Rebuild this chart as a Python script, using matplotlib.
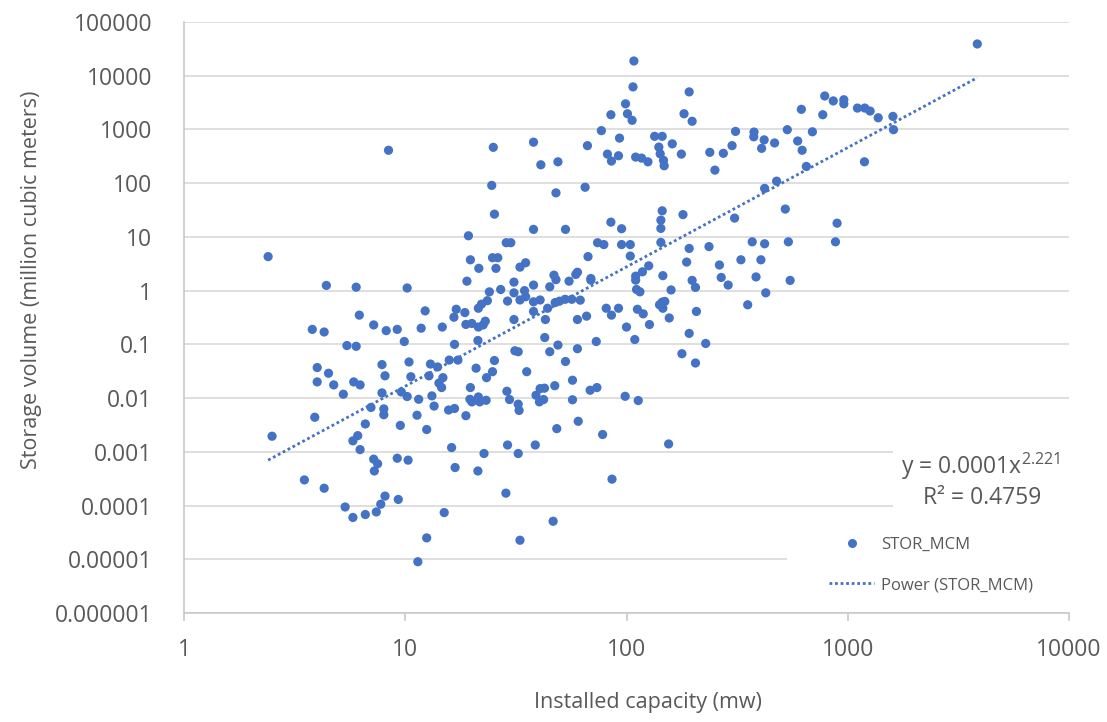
import matplotlib
matplotlib.use("Agg")
import matplotlib.pyplot as plt
from matplotlib.lines import Line2D
from matplotlib.patches import Rectangle

plt.rcParams["font.family"] = ["Open Sans", "DejaVu Sans"]

# installed capacity (MW) and storage volume (million m3)
cap_small = [2.4, 4.4, 6.0, 10.2, 19.3, 19.7, 21.5, 19.0, 22.1, 21.4, 12.3, 17.0, 18.6, 16.6,
             18.8, 20.0, 21.4, 3.8, 4.3, 7.2, 8.2, 9.2, 6.2, 11.8, 14.7, 9.9, 16.7, 21.3,
             5.45, 6.0, 4.0, 4.5, 4.0, 4.75, 5.85, 6.25, 5.25, 7.85, 8.1, 7.85, 10.4, 10.6,
             9.6, 10.2, 11.5, 13.0, 14.0, 12.8, 14.8, 14.2, 14.6, 13.2, 15.8, 17.3, 20.9,
             19.7, 19.6, 21.4, 20.0, 21.7, 18.8, 16.7, 15.7, 13.5, 11.3, 8.0, 8.0, 7.0, 3.9,
             2.5, 6.6, 6.1, 5.8, 6.25, 7.2, 7.5, 7.25, 9.5, 12.5, 9.2, 10.3, 16.2, 16.8,
             21.3, 3.5, 4.3, 5.35, 5.8, 6.6, 7.4, 7.75, 8.1, 9.3, 15.0, 12.5, 11.4, 8.4]
vol_small = [4.3, 1.25, 1.16, 1.12, 10.5, 3.75, 2.6, 1.5, 0.56, 0.47, 0.42, 0.45, 0.39, 0.32,
             0.235, 0.245, 0.21, 0.19, 0.17, 0.23, 0.18, 0.19, 0.35, 0.2, 0.21, 0.113, 0.10,
             0.118, 0.095, 0.092, 0.037, 0.029, 0.02, 0.0176, 0.02, 0.0176, 0.0118, 0.042,
             0.026, 0.0125, 0.047, 0.025, 0.013, 0.0107, 0.0095, 0.043, 0.038, 0.026, 0.024,
             0.019, 0.0157, 0.011, 0.051, 0.051, 0.036, 0.0157, 0.0095, 0.0105, 0.0085,
             0.0085, 0.0047, 0.0064, 0.006, 0.0071, 0.0048, 0.0063, 0.0049, 0.0067, 0.0044,
             0.00195, 0.0033, 0.002, 0.0016, 0.0011, 0.00073, 0.0006, 0.00044, 0.0031,
             0.0026, 0.00076, 0.0007, 0.0012, 0.00051, 0.00044, 0.0003, 0.00021, 0.000094,
             0.00006, 0.000068, 0.000076, 0.000106, 0.00015, 0.00013, 0.000074, 0.000025,
             0.000009, 410]

cap_mid = [25.3, 38, 53, 85, 95, 23.5, 22.5, 23, 31, 31, 29, 27, 24, 25.7, 24.8, 26.2, 28.6,
           30, 33, 34.6, 35, 38, 40.7, 38, 44, 43, 47.6, 49.8, 52.8, 56.6, 61.8, 60, 66, 81,
           85.5, 92, 73, 60, 49, 45, 53, 42.7, 31, 31.3, 32.4, 35.4, 42.6, 40.7, 47.4, 39,
           40.4, 42.2, 57, 57, 68.5, 73.5, 98.6, 32.4, 32.7, 28.8, 29.6, 24.8, 25.3, 23.3,
           23.2, 35, 33, 38, 47, 48, 45, 55, 59, 60, 69, 69, 67, 74, 79, 95, 22.7, 29, 32.4,
           38.7, 48.4, 60.5, 78, 86, 28.5, 46.6, 33, 38, 41, 49, 48, 25, 24.6, 66.6, 65,
           77, 93, 85, 82, 85.5, 92]
vol_mid = [26.5, 13.8, 13.8, 18.8, 14.2, 0.65, 0.23, 0.27, 1.44, 0.91, 0.64, 1.05, 0.95, 2.6,
           4.1, 4.1, 7.8, 7.8, 0.67, 1.0, 0.77, 0.62, 0.67, 0.41, 0.47, 0.29, 0.60, 0.637,
           0.69, 0.69, 0.665, 0.29, 0.335, 0.47, 0.35, 0.47, 0.113, 0.083, 0.097, 0.073,
           0.048, 0.134, 0.29, 0.076, 0.073, 0.031, 0.0153, 0.015, 0.017, 0.0113, 0.0085,
           0.0094, 0.0215, 0.0093, 0.014, 0.0157, 0.0108, 0.0077, 0.0059, 0.0134, 0.0094,
           0.031, 0.05, 0.024, 0.0091, 3.3, 2.74, 1.27, 1.94, 1.6, 1.18, 1.5, 2.0, 2.2,
           1.68, 1.57, 4.3, 7.8, 7.2, 7.2, 0.00093, 0.00134, 0.00093, 0.00134, 0.0027,
           0.0037, 0.0021, 0.00031, 0.00017, 0.000051, 0.0000226, 580, 220, 250, 66, 465,
           91, 500, 84, 950, 690, 1880, 348, 258, 324]

cap_large = [108, 107, 99, 101, 106, 192, 182, 198, 134, 145, 140, 142, 147, 148, 161, 177,
             110, 117, 125, 238, 251, 274, 300, 311, 377, 376, 419, 408, 421, 3850, 787, 860,
             960, 960, 1106, 1194, 1262, 1373, 1600, 1610, 617, 771, 533, 692, 594, 467, 622,
             650, 1190, 477, 522, 895, 539, 880, 549, 145, 143, 143, 180, 308, 143, 192, 236,
             370, 421, 187, 329, 405, 263, 268, 288, 385, 426, 353, 198, 205, 207, 192, 228,
             178, 205, 159, 146, 145, 149, 141, 146, 156, 126, 118, 110, 110, 111, 115, 112,
             119, 127, 100, 109, 104, 104, 113, 155]
vol_large = [18800, 6200, 3000, 1960, 1480, 5000, 1960, 1420, 745, 745, 470, 352, 266, 211,
             540, 348, 306, 293, 250, 375, 175, 360, 500, 920, 895, 730, 640, 445, 80, 39000,
             4200, 3400, 3570, 3000, 2500, 2500, 2200, 1650, 1750, 990, 2370, 1880, 990, 905,
             610, 560, 410, 205, 250, 109, 33, 18, 8.1, 8.1, 1.55, 30.6, 20.5, 14.4, 26, 22.4,
             7.9, 6.1, 6.6, 8.1, 7.45, 3.4, 3.75, 3.75, 3.0, 1.76, 1.27, 1.8, 0.91, 0.545,
             1.55, 1.15, 0.41, 0.16, 0.104, 0.067, 0.045, 1.03, 1.9, 0.61, 0.63, 0.545, 0.47,
             0.31, 2.9, 2.24, 1.86, 1.57, 1.05, 0.95, 0.45, 0.37, 0.234, 0.21, 0.123, 4.4, 7.2,
             0.009, 0.0014]

# power trendline as shown by Excel
trend_coef = 0.0001
trend_exp = 2.221
r_squared = 0.4759

x_ticks = [1, 10, 100, 1000, 10000]
x_labels = ["1", "10", "100", "1000", "10000"]
y_ticks = [1e-6, 1e-5, 1e-4, 1e-3, 1e-2, 1e-1, 1, 10, 100, 1000, 10000, 100000]
y_labels = ["0.000001", "0.00001", "0.0001", "0.001", "0.01", "0.1", "1", "10", "100",
            "1000", "10000", "100000"]

cap = cap_small + cap_mid + cap_large
vol = vol_small + vol_mid + vol_large

blue = "#4472C4"
grey_text = "#595959"
grid_grey = "#d9d9d9"

W, H = 1107, 722
fig = plt.figure(figsize=(W / 100, H / 100), dpi=100)
ax = fig.add_axes([184 / W, 1 - 613 / H, 885 / W, 591 / H])

ax.scatter(cap, vol, s=44, color=blue, edgecolors="none", zorder=3)
x0, x1 = min(cap), max(cap)
ax.plot([x0, x1], [trend_coef * x0 ** trend_exp, trend_coef * x1 ** trend_exp],
        ls=(0, (1, 1)), lw=2, color=blue, zorder=2)

ax.set_xscale("log")
ax.set_yscale("log")
ax.set_xlim(1, 10000)
ax.set_ylim(1e-6, 1e5)
ax.set_xticks(x_ticks, x_labels)
ax.set_yticks(y_ticks, y_labels)
ax.minorticks_off()

ax.set_axisbelow(True)
ax.yaxis.grid(True, color=grid_grey, lw=1.2)
for s in ["top", "right"]:
    ax.spines[s].set_visible(False)
for s in ["left", "bottom"]:
    ax.spines[s].set_color("#c9c9c9")
    ax.spines[s].set_linewidth(1.2)

ax.tick_params(axis="x", direction="out", length=6, width=1.2, color="#c9c9c9",
               labelsize=16.5, labelcolor=grey_text, pad=12)
ax.tick_params(axis="y", length=0, labelsize=16.5, labelcolor=grey_text, pad=23)

ax.set_xlabel("Installed capacity (mw)", fontsize=15.5, color=grey_text)
ax.set_ylabel("Storage volume (million cubic meters)", fontsize=15.5, color=grey_text)
ax.xaxis.set_label_coords(0.524, -0.133)
ax.yaxis.set_label_coords(-0.161, 0.563)

# white boxes behind the trendline label and the legend (as in Excel)
ax.add_patch(Rectangle((893 / W, 1 - 518 / H), (1070 - 893) / W, 80 / H,
                       transform=fig.transFigure, facecolor="white", edgecolor="none", zorder=1))
ax.add_patch(Rectangle((787 / W, 1 - 612 / H), (1070 - 787) / W, 92 / H,
                       transform=fig.transFigure, facecolor="white", edgecolor="none", zorder=1))

fig.text(981 / W, 1 - 466 / H, r"y = 0.0001x$^{\mathregular{%s}}$" % trend_exp,
         ha="center", va="center", fontsize=16.5, color=grey_text)
fig.text(982 / W, 1 - 498 / H, "R² = %s" % r_squared,
         ha="center", va="center", fontsize=16.5, color=grey_text)

handles = [Line2D([], [], ls="none", marker="o", ms=6.5, color=blue, markeredgewidth=0),
           Line2D([], [], ls=(0, (1, 1)), lw=2, color=blue)]
ax.legend(handles, ["STOR_MCM", "Power (STOR_MCM)"], loc="upper left",
          bbox_to_anchor=(829 / W, 1 - 537 / H), bbox_transform=fig.transFigure,
          frameon=False, fontsize=12, labelcolor=grey_text, handlelength=2.7,
          handletextpad=0.4, labelspacing=1.45, borderpad=0, borderaxespad=0)

fig.savefig("out.png", dpi=100)
